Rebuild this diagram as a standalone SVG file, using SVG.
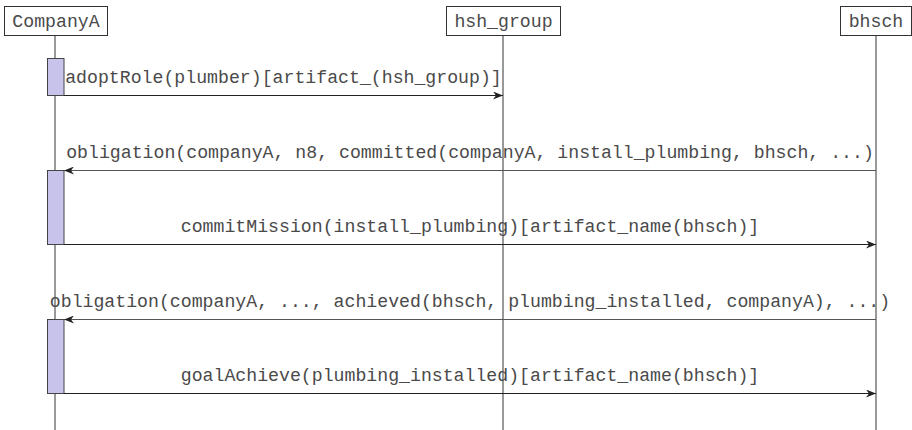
<svg xmlns="http://www.w3.org/2000/svg" width="912" height="430" viewBox="0 0 912 430">
<style>
text{font-family:"Liberation Mono","Courier New",monospace;font-size:18.2px;fill:#4a4a4a;}
.box{fill:#fff;stroke:#333;stroke-width:1}
.life{stroke:#555;stroke-width:1.2;fill:none}
.act{fill:#c8c3eb;stroke:#444;stroke-width:1}
.msg{stroke:#222;stroke-width:1.2;fill:none;marker-end:url(#ah)}
.msgb{stroke:#555;stroke-width:1.2;fill:none;marker-end:url(#ah)}
</style>
<defs>
<marker id="ah" viewBox="0 0 10 8" refX="10" refY="4" markerWidth="10" markerHeight="8" markerUnits="userSpaceOnUse" orient="auto">
<path d="M0,0 L10,4 L0,8 L3,4 z" fill="#222"/>
</marker>
</defs>
<rect width="912" height="430" fill="#fff"/>
<g id="lifelines">
<line class="life" x1="55" y1="35" x2="55" y2="430"/>
<line class="life" x1="503" y1="35" x2="503" y2="430"/>
<line class="life" x1="876" y1="35" x2="876" y2="430"/>
</g>
<g id="CompanyA">
<rect class="box" x="4.5" y="6.5" width="103" height="29"/>
<text x="56" y="27" text-anchor="middle">CompanyA</text>
</g>
<g id="hsh_group">
<rect class="box" x="446.5" y="6.5" width="114" height="29"/>
<text x="503.5" y="27" text-anchor="middle">hsh_group</text>
</g>
<g id="bhsch">
<rect class="box" x="840.5" y="6.5" width="71" height="29"/>
<text x="876" y="27" text-anchor="middle">bhsch</text>
</g>
<g id="activations">
<rect class="act" x="47.5" y="58.5" width="16.5" height="37"/>
<rect class="act" x="47.5" y="170.5" width="16.5" height="74"/>
<rect class="act" x="47.5" y="319.5" width="16.5" height="74"/>
</g>
<g id="connectors">
<line class="msg" x1="64" y1="95.5" x2="503" y2="95.5"/>
<text x="283.5" y="83" text-anchor="middle">adoptRole(plumber)[artifact_(hsh_group)]</text>
<line class="msgb" x1="876" y1="170.5" x2="64" y2="170.5"/>
<text x="470" y="158" text-anchor="middle">obligation(companyA, n8, committed(companyA, install_plumbing, bhsch, ...)</text>
<line class="msg" x1="64" y1="244.5" x2="876" y2="244.5"/>
<text x="470" y="232" text-anchor="middle">commitMission(install_plumbing)[artifact_name(bhsch)]</text>
<line class="msgb" x1="876" y1="319.5" x2="64" y2="319.5"/>
<text x="470" y="307" text-anchor="middle">obligation(companyA, ..., achieved(bhsch, plumbing_installed, companyA), ...)</text>
<line class="msg" x1="64" y1="393.5" x2="876" y2="393.5"/>
<text x="470" y="381" text-anchor="middle">goalAchieve(plumbing_installed)[artifact_name(bhsch)]</text>
</g>
</svg>
